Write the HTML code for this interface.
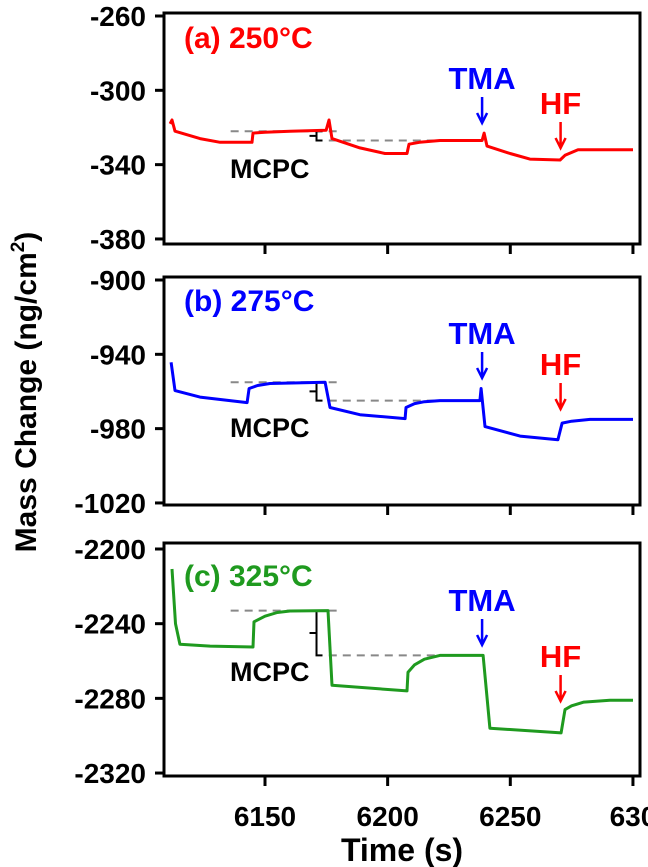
<!DOCTYPE html>
<html><head><meta charset="utf-8"><style>
html,body{margin:0;padding:0;background:#fff}
svg{display:block}
text{font-family:"Liberation Sans",Arial,sans-serif;font-weight:bold}
</style></head><body>
<svg id="chart" width="648" height="867" viewBox="0 0 648 867"></svg>
<script>
// ---- data ----
const timeTicks = [6150, 6200, 6250, 6300];
const tickLabelsX = ["6150", "6200", "6250", "630"];
const aTicks = [-260, -300, -340, -380];
const bTicks = [-900, -940, -980, -1020];
const cTicks = [-2200, -2240, -2280, -2320];
const aTime = [6111.3,6112.1,6113.3,6123.5,6131.7,6144.7,6145.1,6150,6160.2,6174.9,6176.1,6177.3,6188.7,6198.9,6207.9,6208.7,6213,6221.3,6238.5,6239.3,6240.5,6249.9,6258,6270.3,6272.3,6277.6,6300];
const aMass = [-318,-316,-322,-326,-328,-328,-323,-322.6,-322,-321.5,-316,-326,-331,-334,-334,-329,-328,-327,-327,-323,-330,-334,-337,-337.5,-335,-332,-332];
const bTime = [6111.7,6113.3,6123.5,6142.7,6143.5,6147,6152,6174.5,6176.5,6188.7,6207.1,6207.5,6211,6215,6221.3,6237.6,6238.1,6239.7,6254,6269.4,6271.1,6275,6282.5,6300];
const bMass = [-944.3,-959.5,-963,-966,-958.4,-956.8,-955.7,-955,-968.6,-972.5,-974.6,-968.6,-966.5,-965.5,-964.9,-964.9,-958.4,-978.9,-984,-986,-977,-976,-975,-975];
const cTime = [6112.1,6113.5,6115.3,6127.6,6145.1,6145.5,6150,6155,6160.2,6175.7,6177.3,6207.9,6208.3,6211,6215,6221.3,6238.9,6241.7,6270.7,6272.3,6275,6280,6290.6,6300];
const cMass = [-2210.7,-2240,-2251,-2252,-2252.5,-2239,-2236,-2234,-2233.2,-2233,-2273,-2276,-2266,-2262,-2259,-2257,-2257,-2296,-2298.5,-2286,-2284,-2282,-2281,-2281];
const aRef = [-322, -327];
const bRef = [-955, -964.9];
const cRef = [-2233, -2257];
const refUpperT = [6136, 6181];
const refLowerT = [6176, 6221];
const bracketT = 6171;
const tmaT = 6238.5;
const hfT = 6270.5;

const NS = "http://www.w3.org/2000/svg";
const svg = document.getElementById('chart');
function mk(tag, attrs, parent) {
  const e = document.createElementNS(NS, tag);
  for (const k in attrs) e.setAttribute(k, attrs[k]);
  (parent || svg).appendChild(e);
  return e;
}
const L = 164, R = 640;
function xs(t) { return 265 + (t - 6150) * 2.453; }

const panels = [
  {key:'a', top:13, bot:244, y0:16, v0:-260, k:1.858, ticks:aTicks, time:aTime, mass:aMass, ref:aRef, color:'#ff0000', label:'(a) 250°C', labelY:48, tmaY:89, hfY:114, mcY:178},
  {key:'b', top:277, bot:505, y0:280, v0:-900, k:1.858, ticks:bTicks, time:bTime, mass:bMass, ref:bRef, color:'#0000ff', label:'(b) 275°C', labelY:311, tmaY:344, hfY:375, mcY:437},
  {key:'c', top:543, bot:776, y0:549, v0:-2200, k:1.867, ticks:cTicks, time:cTime, mass:cMass, ref:cRef, color:'#1f9a1f', label:'(c) 325°C', labelY:586, tmaY:611, hfY:667, mcY:681}
];

panels.forEach(p => {
  const ys = v => p.y0 + (p.v0 - v) * p.k;
  const g = mk('g', {});
  
  
  const fr = mk('rect', {x:L, y:p.top, width:R-L, height:p.bot-p.top, fill:'none', stroke:'#000', 'stroke-width':3}, g);
  
  
  p.ticks.forEach(v => {
    const y = ys(v);
    const tk = mk('line', {x1:L-9, x2:L, y1:y, y2:y, stroke:'#000', 'stroke-width':3}, g);
    
    
    const tl = mk('text', {x:146, y:y+10, 'font-size':28, 'text-anchor':'end', fill:'#000'}, g);
    tl.textContent = String(v);
    
    
  });
  timeTicks.forEach(t => {
    const tk = mk('line', {x1:xs(t), x2:xs(t), y1:p.bot, y2:p.bot+10, stroke:'#000', 'stroke-width':3}, g);
    
    
  });
  [[refUpperT, p.ref[0]], [refLowerT, p.ref[1]]].forEach(([tr, v], i) => {
    const dl = mk('line', {x1:xs(tr[0]), x2:xs(tr[1]), y1:ys(v), y2:ys(v), stroke:'#888', 'stroke-width':2, 'stroke-dasharray':'8,6'}, g);
    
    
  });
  const bx = xs(bracketT), yu = ys(p.ref[0]), yl = ys(p.ref[1]);
  const br = mk('path', {d:`M${bx+6},${yu} H${bx} V${yl} H${bx+6} M${bx},${(yu+yl)/2} H${bx-7}`, fill:'none', stroke:'#000', 'stroke-width':2}, g);
  
  
  const d = p.time.map((t, i) => (i ? 'L' : 'M') + xs(t).toFixed(1) + ',' + ys(p.mass[i]).toFixed(1)).join(' ');
  const ln = mk('path', {d:d, fill:'none', stroke:p.color, 'stroke-width':3, 'stroke-linejoin':'round'}, g);
  
  
  const pl = mk('text', {x:184, y:p.labelY, 'font-size':30, fill:p.color}, g);
  pl.textContent = p.label;
  
  
  const mc = mk('text', {x:230, y:p.mcY, 'font-size':27, fill:'#000'}, g);
  mc.textContent = 'MCPC';
  
  
  const tx = xs(tmaT);
  const tm = mk('text', {x:tx, y:p.tmaY, 'font-size':31, fill:'#0000ff', 'text-anchor':'middle'}, g);
  tm.textContent = 'TMA';
  
  
  const ta = mk('path', {d:`M${tx},${p.tmaY+8} V${p.tmaY+33} M${tx-5},${p.tmaY+24} L${tx},${p.tmaY+34} L${tx+5},${p.tmaY+24}`, fill:'none', stroke:'#0000ff', 'stroke-width':2.5}, g);
  
  
  const hx = xs(hfT);
  const hf = mk('text', {x:hx, y:p.hfY, 'font-size':31, fill:'#ff0000', 'text-anchor':'middle'}, g);
  hf.textContent = 'HF';
  
  
  const ha = mk('path', {d:`M${hx},${p.hfY+8} V${p.hfY+33} M${hx-5},${p.hfY+24} L${hx},${p.hfY+34} L${hx+5},${p.hfY+24}`, fill:'none', stroke:'#ff0000', 'stroke-width':2.5}, g);
  
  
});

timeTicks.forEach((t, i) => {
  const tl = mk('text', {x:xs(t), y:826, 'font-size':28, 'text-anchor':'middle', fill:'#000'});
  tl.textContent = tickLabelsX[i];
  
  
});
const xt = mk('text', {x:402, y:861, 'font-size':32, 'text-anchor':'middle', fill:'#000'});
xt.textContent = 'Time (s)';


const yt = mk('text', {x:0, y:0, 'font-size':30, 'text-anchor':'middle', fill:'#000', transform:'translate(36,392) rotate(-90)'});
yt.innerHTML = 'Mass Change (ng/cm<tspan dy="-12" font-size="19">2</tspan><tspan dy="12">)</tspan>';


</script>
</body></html>
